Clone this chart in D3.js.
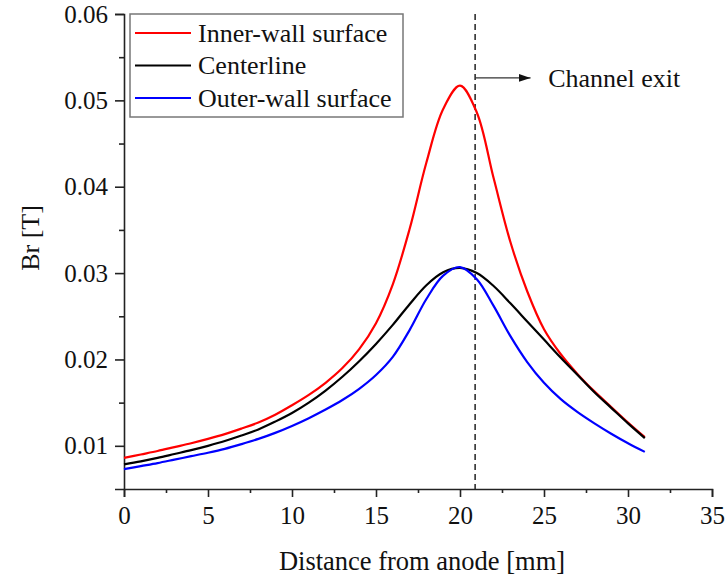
<!DOCTYPE html>
<html>
<head>
<meta charset="utf-8">
<script src="https://cdn.jsdelivr.net/npm/d3@7"></script>
<style>
  body { margin: 0; background: #fff; }
  svg text { font-family: "Liberation Serif", "Times New Roman", serif; fill: #111; }
</style>
</head>
<body>
<div id="chart"></div>
<script>
// Distance from anode [mm]
const xs = [0, 1, 2, 3, 4, 5, 6, 7, 8, 9, 10, 11, 12, 13, 14, 15,
            16, 17, 18, 19, 20, 21, 22, 23, 24, 25, 26, 27, 28, 29, 30, 31];

// Br [T] for each surface
const innerWall = [0.0086, 0.0090, 0.0094, 0.00985, 0.0103, 0.0108, 0.01135, 0.0120, 0.0127, 0.0136, 0.0147,
                   0.0159, 0.0173, 0.0190, 0.0212, 0.0242, 0.0287, 0.0351, 0.0428, 0.0490, 0.0517,
                   0.0486, 0.0410, 0.0336, 0.0279, 0.0235, 0.0206, 0.0183, 0.0163, 0.0145, 0.0127, 0.0110];
const centerline = [0.00785, 0.0082, 0.0086, 0.00905, 0.0095, 0.0100, 0.01055, 0.0112, 0.0119, 0.0128, 0.0138,
                    0.0150, 0.0164, 0.0180, 0.0198, 0.0218, 0.0240, 0.0264, 0.0286, 0.0301, 0.0306,
                    0.0300, 0.0285, 0.0265, 0.0244, 0.0223, 0.0202, 0.0182, 0.0162, 0.0144, 0.0126, 0.0109];
const outerWall = [0.0073, 0.00765, 0.0080, 0.0084, 0.0088, 0.0092, 0.00965, 0.0102, 0.0108, 0.0115, 0.0123,
                   0.0132, 0.0142, 0.0153, 0.0166, 0.0182, 0.0203, 0.0234, 0.0270, 0.0297, 0.0307,
                   0.0293, 0.0262, 0.0227, 0.0197, 0.0173, 0.0154, 0.0139, 0.0126, 0.0114, 0.0103, 0.0093];

const seriesNames = ["Inner-wall surface", "Centerline", "Outer-wall surface"];
const seriesColors = ["#ff0000", "#000000", "#0000ff"];

const xTicks = [0, 5, 10, 15, 20, 25, 30, 35];
const yTicks = [0.01, 0.02, 0.03, 0.04, 0.05, 0.06];

// Channel exit marker
const exitX = 20.9;
const exitArrow = { y: 0.0526, x2: 24.2, labelX: 25.25 };

const width = 727;
const height = 577;
const margin = { top: 14, right: 15, bottom: 88, left: 124 };

const svg = d3.select("#chart")
    .append("svg")
    .attr("width", width)
    .attr("height", height);

const x = d3.scaleLinear()
    .domain([0, 35])
    .range([margin.left, width - margin.right]);

const y = d3.scaleLinear()
    .domain([0.005, 0.06])
    .range([height - margin.bottom, margin.top]);

// axes (major + minor ticks)
const axisColor = "#222";

const gx = svg.append("g")
    .attr("transform", `translate(0,${height - margin.bottom})`)
    .call(d3.axisBottom(x).tickValues(xTicks).tickSize(8).tickPadding(9).tickFormat(d3.format("d")));

svg.append("g")
    .attr("transform", `translate(0,${height - margin.bottom})`)
    .call(d3.axisBottom(x).tickValues(xTicks.slice(0, -1).map(d => d + 2.5)).tickSize(4).tickFormat(""))
    .select(".domain").remove();

const gy = svg.append("g")
    .attr("transform", `translate(${margin.left},0)`)
    .call(d3.axisLeft(y).tickValues(yTicks).tickSize(9).tickPadding(7).tickFormat(d3.format(".2f")));

svg.append("g")
    .attr("transform", `translate(${margin.left},0)`)
    .call(d3.axisLeft(y).tickValues(yTicks.slice(0, -1).map(d => d + 0.005)).tickSize(5).tickFormat(""))
    .select(".domain").remove();

svg.selectAll(".domain, .tick line")
    .attr("stroke", axisColor)
    .attr("stroke-width", 1.6);

gx.selectAll("text").attr("font-size", "25px").attr("font-family", "Liberation Serif").attr("fill", "#111");
gy.selectAll("text").attr("font-size", "25px").attr("font-family", "Liberation Serif").attr("fill", "#111");

// axis titles
svg.append("text")
    .attr("x", (margin.left + width - margin.right) / 2 + 4)
    .attr("y", 570)
    .attr("text-anchor", "middle")
    .attr("font-size", "26.5px")
    .text("Distance from anode [mm]");

svg.append("text")
    .attr("transform", `translate(39,${238}) rotate(-90)`)
    .attr("text-anchor", "middle")
    .attr("font-size", "26px")
    .text("Br [T]");

// channel exit dashed line + arrow
svg.append("line")
    .attr("x1", x(exitX)).attr("x2", x(exitX))
    .attr("y1", y(0.06)).attr("y2", y(0.005))
    .attr("stroke", "#222")
    .attr("stroke-width", 1.5)
    .attr("stroke-dasharray", "6,4");

svg.append("defs").append("marker")
    .attr("id", "arrow")
    .attr("viewBox", "0 0 12 8")
    .attr("refX", 12).attr("refY", 4)
    .attr("markerWidth", 12).attr("markerHeight", 8)
    .attr("markerUnits", "userSpaceOnUse")
    .attr("orient", "auto")
    .append("path")
    .attr("d", "M0,0L12,4L0,8Z")
    .attr("fill", "#111");

svg.append("line")
    .attr("x1", x(exitX)).attr("x2", x(exitArrow.x2))
    .attr("y1", y(exitArrow.y)).attr("y2", y(exitArrow.y))
    .attr("stroke", "#333")
    .attr("stroke-width", 1.3)
    .attr("marker-end", "url(#arrow)");

svg.append("text")
    .attr("x", x(exitArrow.labelX))
    .attr("y", y(exitArrow.y))
    .attr("dy", "0.35em")
    .attr("font-size", "26px")
    .text("Channel exit");

// curves
const seriesData = [innerWall, centerline, outerWall];

const line = d3.line()
    .x(d => x(d[0]))
    .y(d => y(d[1]))
    .curve(d3.curveCatmullRom.alpha(0.5));

svg.selectAll(".curve")
    .data(seriesData)
    .enter()
    .append("path")
    .attr("class", "curve")
    .attr("fill", "none")
    .attr("stroke", (d, i) => seriesColors[i])
    .attr("stroke-width", 2.2)
    .attr("d", d => line(xs.map((v, i) => [v, d[i]])));

// legend
const legend = svg.append("g").attr("transform", "translate(130,14)");

legend.append("rect")
    .attr("width", 273)
    .attr("height", 103)
    .attr("fill", "#fff")
    .attr("stroke", "#777")
    .attr("stroke-width", 1.5);

const items = legend.selectAll(".item")
    .data(seriesNames)
    .enter()
    .append("g")
    .attr("transform", (d, i) => `translate(0,${19 + i * 32.5})`);

items.append("line")
    .attr("x1", 5).attr("x2", 61)
    .attr("stroke", (d, i) => seriesColors[i])
    .attr("stroke-width", 2.2);

items.append("text")
    .attr("x", 68)
    .attr("dy", "0.33em")
    .attr("font-size", "26px")
    .text(d => d);
</script>
</body>
</html>
